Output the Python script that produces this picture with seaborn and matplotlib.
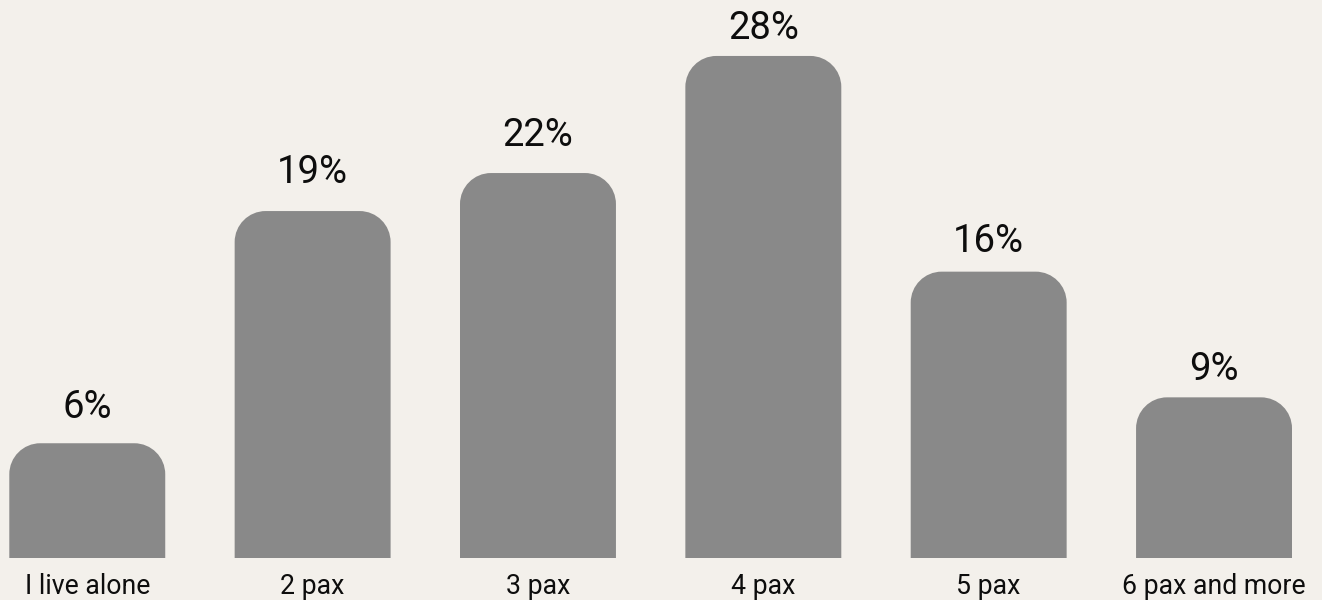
import matplotlib
matplotlib.use("Agg")
import matplotlib.pyplot as plt
import seaborn as sns
import pandas as pd
from matplotlib.path import Path
from matplotlib.patches import PathPatch

categories = ["I live alone", "2 pax", "3 pax", "4 pax", "5 pax", "6 pax and more"]
values = [6.4, 19.35, 21.47, 28.0, 15.97, 8.96]
value_labels = ["6%", "19%", "22%", "28%", "16%", "9%"]

BG = "#F3F0EB"
BAR = "#898989"
TXT = "#0d0d0d"
label_gap_px = [25, 28, 27, 17, 20, 17]

sns.set_theme(style="white")
plt.rcParams["font.family"] = ["Roboto", "DejaVu Sans"]

W, H = 1322, 600
fig = plt.figure(figsize=(W / 100, H / 100), dpi=100, facecolor=BG)
ax_left, ax_right = 9.3, 1292
ax_bottom_px = 558
ax = fig.add_axes([ax_left / W, (H - ax_bottom_px) / H, (ax_right - ax_left) / W, ax_bottom_px / H])
ax.set_facecolor(BG)

df = pd.DataFrame({"cat": categories, "val": values})
sns.barplot(data=df, x="cat", y="val", color=BAR, width=0.692, saturation=1, ax=ax)

half = 0.692 / 2
ax.set_xlim(-half, len(categories) - 1 + half)
px_per_y = 17.93
ymax = ax_bottom_px / px_per_y
ax.set_ylim(0, ymax)

# rounded top corners
px_per_x = (ax_right - ax_left) / (ax.get_xlim()[1] - ax.get_xlim()[0])
r_px = 31
rx = r_px / px_per_x
ry = r_px / px_per_y
k = 0.5523
for p in list(ax.patches):
    x0 = p.get_x(); w = p.get_width(); h = p.get_height()
    x1 = x0 + w
    verts = [
        (x0, 0), (x0, h - ry),
        (x0, h - ry + k * ry), (x0 + rx - k * rx, h), (x0 + rx, h),
        (x1 - rx, h),
        (x1 - rx + k * rx, h), (x1, h - ry + k * ry), (x1, h - ry),
        (x1, 0), (x0, 0),
    ]
    codes = [Path.MOVETO, Path.LINETO,
             Path.CURVE4, Path.CURVE4, Path.CURVE4,
             Path.LINETO,
             Path.CURVE4, Path.CURVE4, Path.CURVE4,
             Path.LINETO, Path.CLOSEPOLY]
    ax.add_patch(PathPatch(Path(verts, codes), facecolor=BAR, edgecolor="none"))
    p.remove()

for i, (v, lab, g) in enumerate(zip(values, value_labels, label_gap_px)):
    ax.annotate(lab, (i, v), xytext=(0, g), textcoords="offset pixels",
                ha="center", va="baseline", fontsize=27.5, color=TXT)

ax.set_xticks(range(len(categories)))
ax.set_xticklabels(categories, fontsize=19.2, color=TXT)
ax.tick_params(axis="x", length=0, pad=11)
ax.set_yticks([])
ax.set_xlabel("")
ax.set_ylabel("")
for s in ax.spines.values():
    s.set_visible(False)

fig.savefig("out.png", dpi=100, facecolor=BG)
